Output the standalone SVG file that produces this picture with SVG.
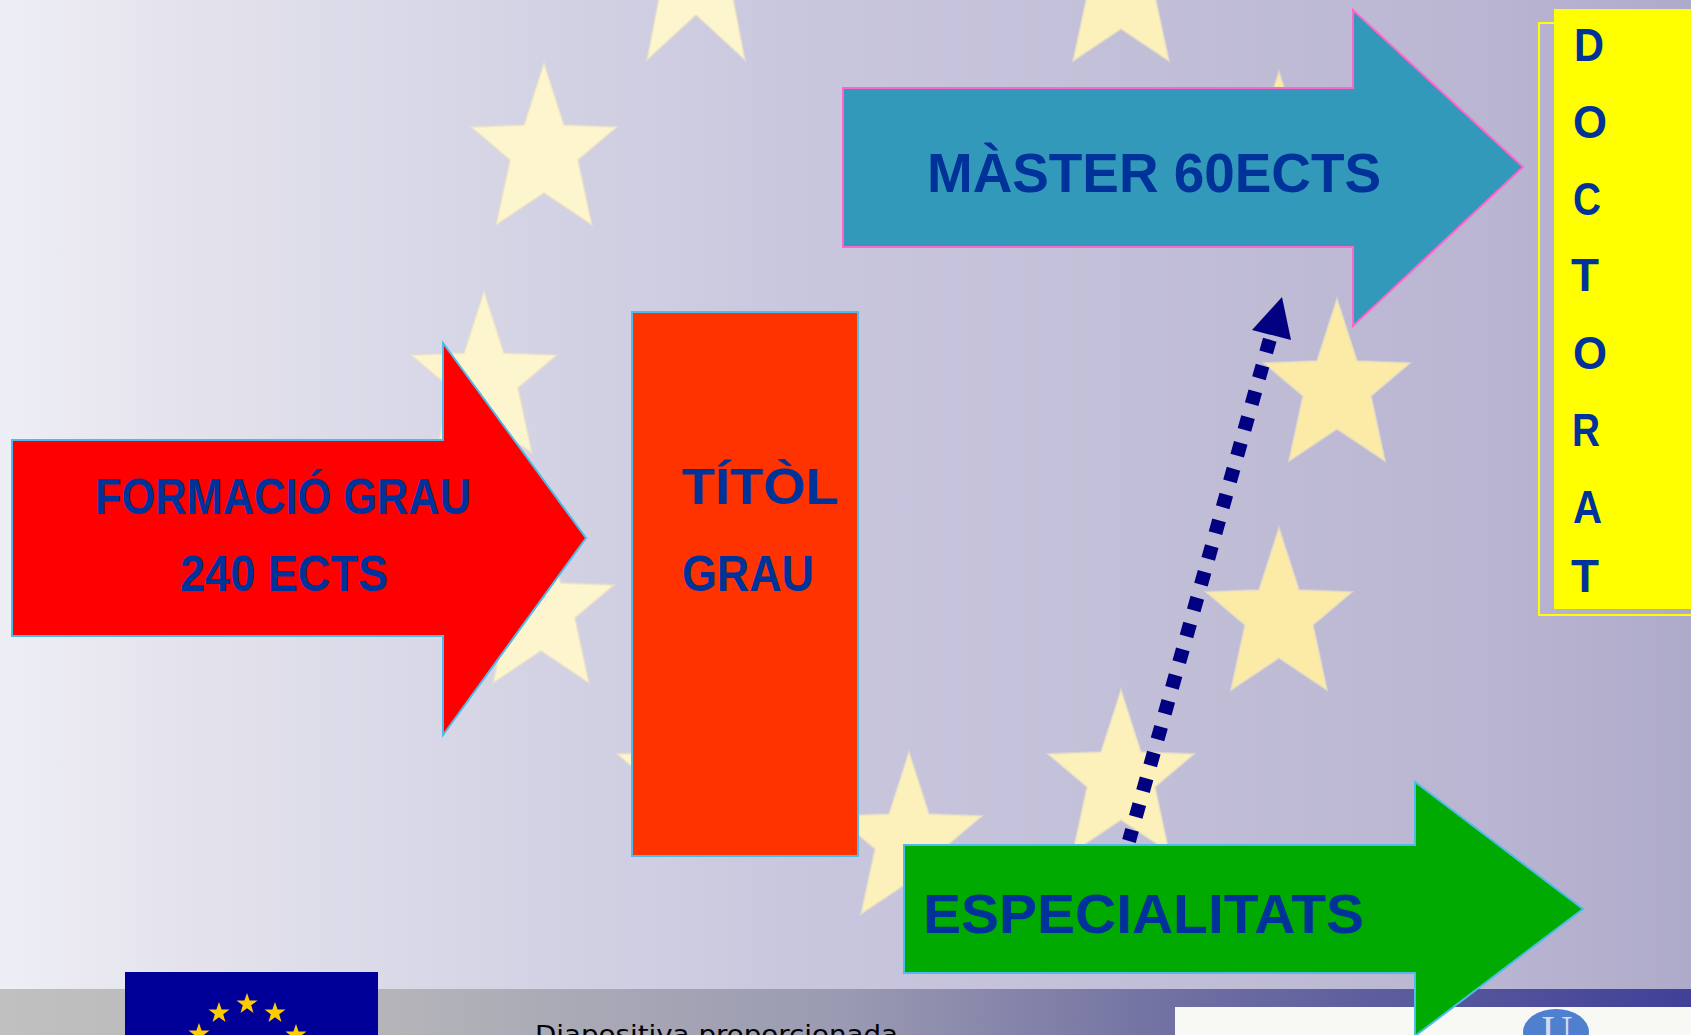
<svg xmlns="http://www.w3.org/2000/svg" width="1691" height="1035" viewBox="0 0 1691 1035">
<defs>
<linearGradient id="bg" x1="0" y1="0" x2="1" y2="0">
<stop offset="0" stop-color="#eeeef6"/><stop offset="0.12" stop-color="#e3e2ec"/><stop offset="0.236" stop-color="#d9d9e8"/><stop offset="0.47" stop-color="#c9c7de"/><stop offset="0.83" stop-color="#bcb8d3"/><stop offset="0.88" stop-color="#b9b5d2"/><stop offset="1" stop-color="#aeaac9"/>
</linearGradient>
<linearGradient id="foot" x1="0" y1="0" x2="1" y2="0">
<stop offset="0" stop-color="#c0c0c0"/><stop offset="0.22" stop-color="#b5b5b9"/><stop offset="0.5" stop-color="#9a9ab2"/><stop offset="0.7" stop-color="#6f6fa2"/><stop offset="1" stop-color="#404098"/>
</linearGradient>
<polygon id="star" points="0,0 20,62 73,64 34,97 48,162 0,130 -48,162 -34,97 -73,64 -20,62"/>
<polygon id="fstar" points="0,-11 2.600,-3.400 10.500,-3.400 4.200,1.300 6.500,8.900 0,4.200 -6.500,8.900 -4.200,1.300 -10.500,-3.400 -2.600,-3.400"/>
</defs>
<style>
.t{font-family:"Liberation Sans","Noto Sans",sans-serif;font-weight:bold;fill:#003399}
.big{font-size:50px}
.let{font-size:47px}
.s{stroke:#e8e0c8;stroke-width:2;stroke-opacity:.6}
.s1{fill:#fdf5cd}
.s2{fill:#fcf0bb}
.s3{fill:#fbeba6}
.fs{fill:#ffcc00}
.blue-line{stroke:#4fbbea;stroke-width:2}
</style>
<rect width="1691" height="1035" fill="url(#bg)"/>
<rect y="989" width="1691" height="46" fill="url(#foot)"/>
<g id="stars">
<polygon class="s s1" points="544,63 564,125 617,127 578,160 592,225 544,193 496,225 510,160 471,127 524,125"/>
<polygon class="s s1" points="696,-115 716,-53 769,-51 730,-18 745,60 696,15 647,60 662,-18 623,-51 676,-53"/>
<polygon class="s s2" points="1121,-101 1141,-39 1194,-37 1155,-4 1169,61 1121,29 1073,61 1087,-4 1048,-37 1101,-39"/>
<use href="#star" class="s s3" x="1279" y="72"/>
<use href="#star" class="s s1" x="484" y="291"/>
<use href="#star" class="s s1" x="541" y="521"/>
<use href="#star" class="s s1" x="690" y="690"/>
<use href="#star" class="s s2" x="909" y="752"/>
<use href="#star" class="s s2" x="1121" y="690"/>
<use href="#star" class="s s3" x="1279" y="528"/>
<use href="#star" class="s s3" x="1337" y="299"/>
</g>
<g id="flag">
<rect x="125" y="972" width="253" height="63" fill="#000099"/>
<use href="#fstar" class="fs" x="247" y="1004"/>
<use href="#fstar" class="fs" x="219" y="1013"/>
<use href="#fstar" class="fs" x="275" y="1013"/>
<use href="#fstar" class="fs" x="199" y="1034"/>
<use href="#fstar" class="fs" x="296" y="1035"/>
</g>
<g id="caption">
<text x="535" y="1043" font-family="'DejaVu Sans',sans-serif" font-size="25" fill="#000" textLength="363" lengthAdjust="spacingAndGlyphs">Diapositiva proporcionada</text>
</g>
<g id="logo">
<rect x="1175" y="1007" width="516" height="28" fill="#f8f8f5"/>
<ellipse cx="1556" cy="1032" rx="33" ry="23" fill="#4f80cf"/>
<text x="1557" y="1045" text-anchor="middle" font-family="'Liberation Serif',serif" font-size="43" fill="#d0dcf0">U</text>
</g>
<g id="node-formacio">
<polygon class="blue-line" fill="#ff0000" points="12,440 443,440 443,343 586,538 443,735 443,636 12,636"/>
<text class="t big" x="95" y="514" textLength="376" lengthAdjust="spacingAndGlyphs">FORMACIÓ GRAU</text>
<text class="t big" x="180" y="591" textLength="208" lengthAdjust="spacingAndGlyphs">240 ECTS</text>
</g>
<g id="node-titol">
<rect class="blue-line" x="632" y="312" width="226" height="544" fill="#ff3300"/>
<text class="t big" x="682" y="504" textLength="157" lengthAdjust="spacingAndGlyphs">TÍTÒL</text>
<text class="t big" x="682" y="591" textLength="132" lengthAdjust="spacingAndGlyphs">GRAU</text>
</g>
<g id="node-master">
<polygon fill="#3399bb" stroke="#ff66cc" stroke-width="2" points="843,88 1353,88 1353,10 1523,167 1353,326 1353,247 843,247"/>
<text class="t" font-size="56" x="927" y="192" textLength="454" lengthAdjust="spacingAndGlyphs">MÀSTER 60ECTS</text>
</g>
<g id="node-doctorat">
<rect x="1539" y="23" width="160" height="592" fill="none" stroke="#ffff00" stroke-width="2"/>
<rect x="1554" y="9" width="137" height="600" fill="#ffff00"/>
<text class="t let" x="1574" y="61" textLength="30" lengthAdjust="spacingAndGlyphs">D</text>
<text class="t let" x="1573" y="138" textLength="34" lengthAdjust="spacingAndGlyphs">O</text>
<text class="t let" x="1573" y="215" textLength="28" lengthAdjust="spacingAndGlyphs">C</text>
<text class="t let" x="1571" y="291" textLength="28" lengthAdjust="spacingAndGlyphs">T</text>
<text class="t let" x="1573" y="369" textLength="34" lengthAdjust="spacingAndGlyphs">O</text>
<text class="t let" x="1572" y="446" textLength="28" lengthAdjust="spacingAndGlyphs">R</text>
<text class="t let" x="1573" y="523" textLength="29" lengthAdjust="spacingAndGlyphs">A</text>
<text class="t let" x="1571" y="592" textLength="28" lengthAdjust="spacingAndGlyphs">T</text>
</g>
<g id="node-especialitats">
<polygon class="blue-line" fill="#00aa00" points="904,845 1415,845 1415,782 1583,909 1415,1036 1415,973 904,973"/>
<text class="t" font-size="56" x="923" y="933" textLength="441" lengthAdjust="spacingAndGlyphs">ESPECIALITATS</text>
</g>
<g id="connectors">
<path d="M1269.75,339.74 L1129,841" fill="none" stroke="#000080" stroke-width="14" stroke-dasharray="13.2 13.6"/>
<polygon points="1282,297 1252,330 1291,340" fill="#000080"/>
</g>
</svg>
